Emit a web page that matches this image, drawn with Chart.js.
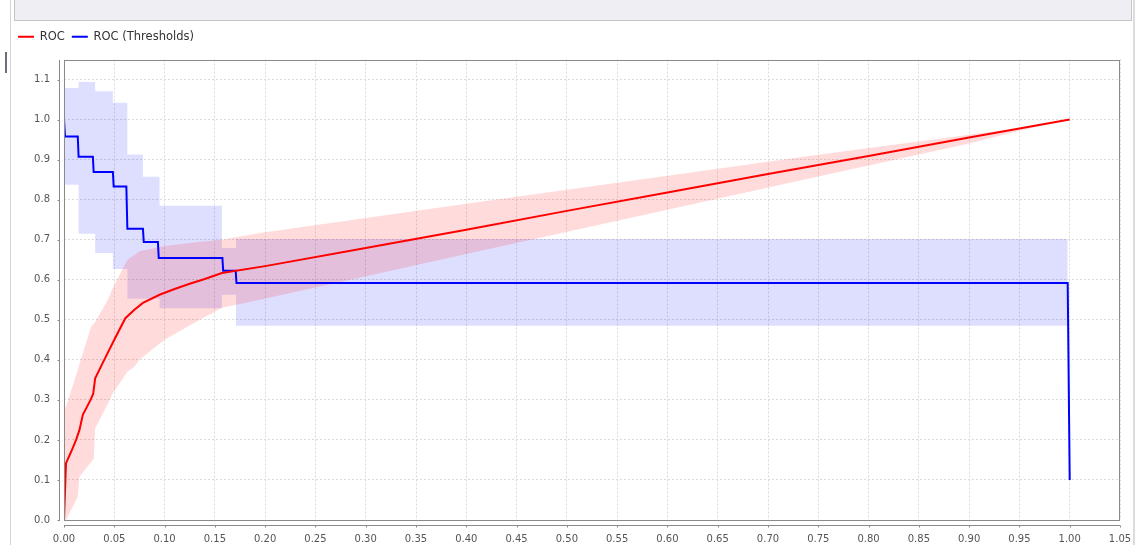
<!DOCTYPE html>
<html>
<head>
<meta charset="utf-8">
<script src="https://cdn.jsdelivr.net/npm/chart.js@4"></script>
<style>
  body { margin: 0; background: #fff; }
  #wrap { position: relative; width: 1137px; height: 545px; overflow: hidden; }
  #wrap canvas { position: absolute; left: 0; top: 0; }
  .deco { position: absolute; pointer-events: none; box-sizing: border-box; }
</style>
</head>
<body>
<div id="wrap">
  <canvas id="rocChart" width="1137" height="545"></canvas>
  <div class="deco" style="left:14px;top:-2px;width:1118px;height:23px;background:#eeeef3;border:1px solid #c4c4c8;"></div>
  <div class="deco" style="left:10px;top:0;width:1px;height:545px;background:#d4d4d4;"></div>
  <div class="deco" style="left:5px;top:52px;width:2px;height:21px;background:#6e6e7c;"></div>
  <div class="deco" style="left:1133px;top:0;width:2px;height:545px;background:#dcdcdc;"></div>
</div>
<script>
const seriesNames = ['ROC', 'ROC (Thresholds)']

// ROC curve
const rocFpr = [0, 0.002, 0.0072, 0.012, 0.0154, 0.0187, 0.0264, 0.029, 0.031, 0.040, 0.050, 0.061, 0.070, 0.0785, 0.095, 0.11, 0.125, 0.14, 0.157, 0.2, 0.3, 0.4, 0.5, 0.6, 0.7, 0.8, 0.9, 1.0]
const rocTpr = [0, 0.142, 0.171, 0.200, 0.225, 0.2625, 0.300, 0.315, 0.354, 0.400, 0.450, 0.504, 0.525, 0.542, 0.5625, 0.577, 0.590, 0.602, 0.6167, 0.634, 0.679, 0.725, 0.772, 0.818, 0.864, 0.909, 0.955, 1.0]

// ROC confidence band
const rocBandFpr = [0, 0.002, 0.0137, 0.0154, 0.027, 0.0297, 0.031, 0.0436, 0.0486, 0.063, 0.070, 0.075, 0.1, 0.135, 0.157, 0.195, 0.4, 0.6, 0.75, 0.9, 0.95, 1.0]
const rocBandHi = [0.28, 0.283, 0.375, 0.39, 0.483, 0.49, 0.495, 0.55, 0.58, 0.65, 0.662, 0.671, 0.684, 0.695, 0.70, 0.717, 0.79, 0.86, 0.912, 0.962, 0.979, 1.0]
const rocBandLo = [0, 0, 0.058, 0.108, 0.145, 0.154, 0.229, 0.29, 0.317, 0.37, 0.383, 0.40, 0.45, 0.50, 0.53, 0.55, 0.664, 0.775, 0.858, 0.94, 0.972, 1.0]

// threshold curve (step corners)
const thrFpr = [0, 0.001, 0.0137, 0.0145, 0.0287, 0.0295, 0.0486, 0.0494, 0.062, 0.063, 0.0785, 0.0793, 0.0934, 0.0942, 0.1575, 0.1583, 0.1707, 0.1715, 0.998, 1.0]
const thrTpr = [1.0, 0.958, 0.958, 0.907, 0.907, 0.869, 0.869, 0.833, 0.833, 0.7275, 0.7275, 0.694, 0.694, 0.654, 0.654, 0.6225, 0.6225, 0.592, 0.592, 0.1]

// threshold band, each value holds until the next x
const thrBandFpr = [0, 0.0145, 0.031, 0.0486, 0.063, 0.0785, 0.095, 0.157, 0.171, 0.998]
const thrBandHi = [1.079, 1.094, 1.071, 1.042, 0.9125, 0.857, 0.785, 0.679, 0.7015, 0.7015]
const thrBandLo = [0.8375, 0.715, 0.667, 0.627, 0.5525, 0.5525, 0.529, 0.5625, 0.485, 0.485]

const xTicks = [0, 0.05, 0.1, 0.15, 0.2, 0.25, 0.3, 0.35, 0.4, 0.45, 0.5, 0.55, 0.6, 0.65, 0.7, 0.75, 0.8, 0.85, 0.9, 0.95, 1.0, 1.05]
const yTicks = [0, 0.1, 0.2, 0.3, 0.4, 0.5, 0.6, 0.7, 0.8, 0.9, 1.0, 1.1]

const pts = (xs, ys) => xs.map((x, i) => ({x: x, y: ys[i]}))
const FONT = 'DejaVu Sans'

// offset axis lines + plot outline, like the original desktop chart
const axisFrame = {
    id: 'axisFrame',
    beforeInit(chart) {
        const fit = chart.legend.fit
        chart.legend.fit = function () {
            fit.call(chart.legend)
            this.height += 7
        }
    },
    afterDraw(chart) {
        const {ctx, chartArea: a, scales} = chart
        const l = Math.round(a.left), r = Math.round(a.right)
        const t = Math.round(a.top), b = Math.round(a.bottom)
        ctx.save()
        ctx.lineWidth = 1
        ctx.strokeStyle = '#8a8a8a'
        ctx.strokeRect(l + 0.5, t + 0.5, r - l - 1, b - t)
        ctx.beginPath()
        const ax = l - 5 + 0.5
        ctx.moveTo(ax, t)
        ctx.lineTo(ax, b + 1)
        scales.y.ticks.forEach(tk => {
            const py = Math.round(scales.y.getPixelForValue(tk.value)) + 0.5
            ctx.moveTo(ax - 2, py)
            ctx.lineTo(ax, py)
        })
        const ay = b + 5 + 0.5
        ctx.moveTo(l, ay)
        ctx.lineTo(r, ay)
        scales.x.ticks.forEach(tk => {
            const px = Math.round(scales.x.getPixelForValue(tk.value)) + 0.5
            ctx.moveTo(px, ay)
            ctx.lineTo(px, ay + 2)
        })
        ctx.stroke()
        ctx.restore()
    }
}

const ctx = document.getElementById('rocChart').getContext('2d')
const rocChart = new Chart(ctx, {
    type: 'line',
    data: {
        datasets: [
            {
                label: seriesNames[0],
                data: pts(rocFpr, rocTpr),
                borderColor: '#ff0000',
                backgroundColor: '#ff0000',
                pointBorderColor: '#ff0000',
                pointBorderWidth: 2,
                borderWidth: 2,
                pointRadius: 0,
                tension: 0,
                fill: false
            },
            {
                label: seriesNames[1],
                data: pts(thrFpr, thrTpr),
                borderColor: '#0000ff',
                backgroundColor: '#0000ff',
                pointBorderColor: '#0000ff',
                pointBorderWidth: 2,
                borderWidth: 2,
                pointRadius: 0,
                tension: 0,
                fill: false
            },
            {
                label: 'roc hi',
                data: pts(rocBandFpr, rocBandHi),
                borderWidth: 0,
                borderColor: 'rgba(0,0,0,0)',
                pointRadius: 0,
                tension: 0,
                fill: false
            },
            {
                label: 'roc lo',
                data: pts(rocBandFpr, rocBandLo),
                borderWidth: 0,
                borderColor: 'rgba(0,0,0,0)',
                backgroundColor: 'rgba(255,0,0,0.14)',
                pointRadius: 0,
                tension: 0,
                fill: '-1'
            },
            {
                label: 'thr hi',
                data: pts(thrBandFpr, thrBandHi),
                borderWidth: 0,
                borderColor: 'rgba(0,0,0,0)',
                pointRadius: 0,
                stepped: 'before',
                fill: false
            },
            {
                label: 'thr lo',
                data: pts(thrBandFpr, thrBandLo),
                borderWidth: 0,
                borderColor: 'rgba(0,0,0,0)',
                backgroundColor: 'rgba(0,0,255,0.13)',
                pointRadius: 0,
                stepped: 'before',
                fill: '-1'
            }
        ]
    },
    options: {
        responsive: false,
        animation: false,
        layout: {
            padding: {left: 11, right: 17, top: 24, bottom: 0}
        },
        plugins: {
            legend: {
                position: 'top',
                align: 'start',
                labels: {
                    filter: item => item.datasetIndex < 2,
                    usePointStyle: true,
                    pointStyle: 'line',
                    pointStyleWidth: 16,
                    padding: 7,
                    color: '#333',
                    font: {family: FONT, size: 11.5}
                }
            },
            tooltip: {enabled: false}
        },
        scales: {
            x: {
                type: 'linear',
                min: 0,
                max: 1.05,
                afterBuildTicks: s => { s.ticks = xTicks.map(v => ({value: v})) },
                afterFit: s => {
                    s.height = 25
                    s.paddingLeft = 0
                    s.paddingRight = 0
                },
                ticks: {
                    autoSkip: false,
                    maxRotation: 0,
                    padding: 13,
                    color: '#555',
                    font: {family: FONT, size: 10},
                    callback: v => Number(v).toFixed(2)
                },
                grid: {color: '#dadada', lineWidth: 1, drawTicks: false},
                border: {display: false, dash: [2, 2]}
            },
            y: {
                type: 'linear',
                min: 0,
                max: 1.15,
                afterBuildTicks: s => { s.ticks = yTicks.map(v => ({value: v})) },
                afterFit: s => {
                    s.width = 53
                    s.paddingTop = 0
                    s.paddingBottom = 0
                },
                ticks: {
                    padding: 14,
                    color: '#555',
                    font: {family: FONT, size: 10},
                    callback: v => Number(v).toFixed(1)
                },
                grid: {color: '#dadada', lineWidth: 1, drawTicks: false},
                border: {display: false, dash: [2, 2]}
            }
        }
    },
    plugins: [axisFrame]
})
</script>
</body>
</html>
